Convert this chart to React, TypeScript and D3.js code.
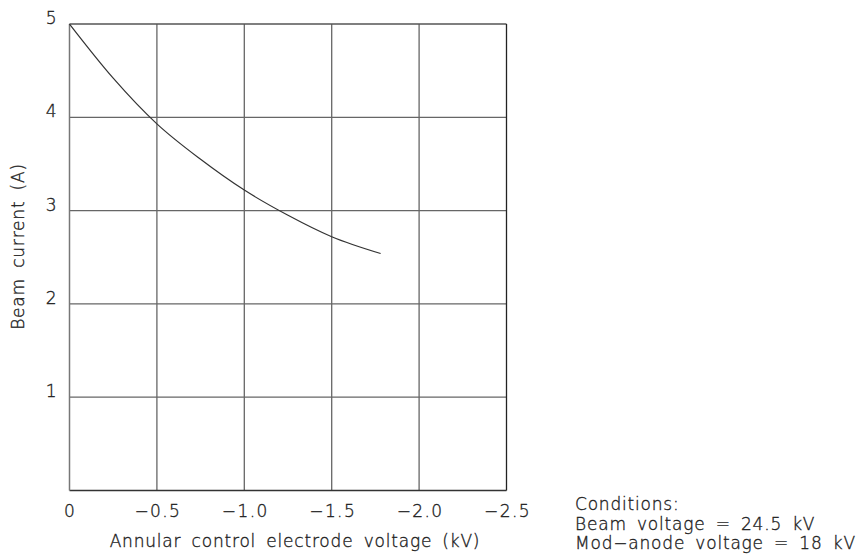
import React from "react";
import * as d3 from "d3";

const xTicks = [0, -0.5, -1.0, -1.5, -2.0, -2.5];
const xTickLabels = ["0", "−0.5", "−1.0", "−1.5", "−2.0", "−2.5"];
const yTicks = [1, 2, 3, 4, 5];
const yTickLabels = ["1", "2", "3", "4", "5"];
const curveX = [0, -0.25, -0.5, -0.75, -1.0, -1.25, -1.5, -1.78];
const curveY = [5, 4.42, 3.93, 3.55, 3.22, 2.95, 2.72, 2.54];
const xTitle = "Annular control electrode voltage (kV)";
const yTitle = "Beam current (A)";
const conditions = ["Conditions:", "Beam voltage = 24.5 kV", "Mod−anode voltage = 18 kV"];

const FONT = "'DejaVu Sans', sans-serif";

export default function App() {
  const W = 865, H = 557;
  const left = 69.5, right = 506.5, top = 24, bottom = 490.5;
  const x = d3.scaleLinear().domain([0, -2.5]).range([left, right]);
  const y = d3.scaleLinear().domain([0, 5]).range([bottom, top]);
  const line = d3.line<number>().x((_, i) => x(curveX[i])).y((d) => y(d)).curve(d3.curveMonotoneX);
  const textStyle = {
    fontFamily: FONT, fontWeight: 200, fill: "#222", stroke: "#222", strokeWidth: 0.35,
    letterSpacing: "0.8px", wordSpacing: "4px",
  } as any;
  const tickStyle = { ...textStyle, letterSpacing: "1.4px", wordSpacing: "0px" };
  const fs = 17;
  return (
    <svg width={W} height={H} style={{ position: "absolute", left: 0, top: 0 }}>
      <rect width={W} height={H} fill="#fff" />
      {xTicks.slice(1, -1).map((t) => (
        <line key={"gx" + t} x1={x(t)} x2={x(t)} y1={top} y2={bottom} stroke="#666" strokeWidth={1.3} />
      ))}
      {yTicks.slice(0, -1).map((t) => (
        <line key={"gy" + t} x1={left} x2={right} y1={y(t)} y2={y(t)} stroke="#666" strokeWidth={1.3} />
      ))}
      <line x1={left} x2={right} y1={top} y2={top} stroke="#555" strokeWidth={1.3} />
      <line x1={left} x2={right} y1={bottom} y2={bottom} stroke="#333" strokeWidth={1.3} />
      <line x1={left} x2={left} y1={top} y2={bottom} stroke="#777" strokeWidth={1.5} />
      <line x1={right} x2={right} y1={top} y2={bottom} stroke="#222" strokeWidth={1.3} />
      <path d={line(curveY) || ""} fill="none" stroke="#333" strokeWidth={1.2} />
      {xTicks.map((t, i) => (
        <text key={"tx" + t} x={x(t) + (i === 0 ? 0.5 : 1)} y={517} textAnchor="middle" fontSize={fs} style={tickStyle}>
          {xTickLabels[i]}
        </text>
      ))}
      {yTicks.map((t, i) => (
        <text key={"ty" + t} x={58} y={y(t)} textAnchor="end" fontSize={fs} style={tickStyle}>
          {yTickLabels[i]}
        </text>
      ))}
      <text x={295} y={547} textAnchor="middle" fontSize={fs} style={textStyle}>
        {xTitle}
      </text>
      <text transform={`translate(24, 246.5) rotate(-90)`} textAnchor="middle" fontSize={fs} style={textStyle}>
        {yTitle}
      </text>
      {conditions.map((c, i) => (
        <text key={"c" + i} x={575} y={510 + i * 19.5} fontSize={fs} style={textStyle}>
          {c}
        </text>
      ))}
    </svg>
  );
}
